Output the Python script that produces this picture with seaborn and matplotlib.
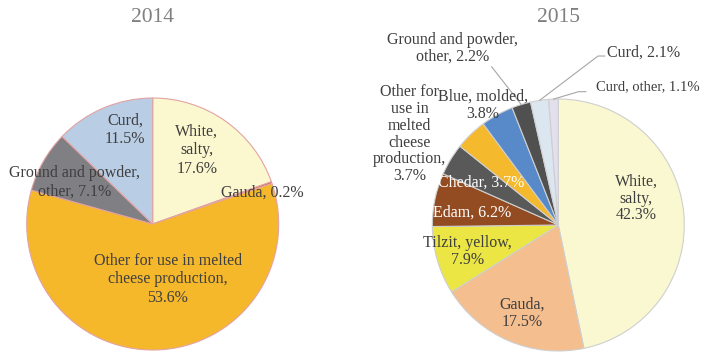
import matplotlib
matplotlib.use("Agg")
import matplotlib.pyplot as plt
import seaborn as sns
import numpy as np

# Cheese production structure by type, percent
cats_2014 = ["White, salty", "Gauda", "Other for use in melted cheese production",
             "Ground and powder, other", "Curd"]
vals_2014 = [17.6, 0.2, 53.6, 7.1, 11.5]

cats_2015 = ["White, salty", "Gauda", "Tilzit, yellow", "Edam", "Chedar",
             "Other for use in melted cheese production", "Blue, molded",
             "Ground and powder, other", "Curd", "Curd, other"]
vals_2015 = [42.3, 17.5, 7.9, 6.2, 3.7, 3.7, 3.8, 2.2, 2.1, 1.1]

years = ["2014", "2015"]

colors_2014 = ["#FBF8D0", "#C0504D", "#F5B82B", "#7F7F84", "#B9CDE5"]
colors_2015 = ["#FAF8D0", "#F5BE8F", "#EBE643", "#934C22", "#595959",
               "#F5B92E", "#588AC9", "#505050", "#DCE6F1", "#E4DFEC"]

# line breaks used when the category names are written on the chart
wrap_2014 = ["White,\nsalty,\n{v}%", "Gauda, {v}%",
             "Other for use in melted\ncheese production,\n{v}%",
             "Ground and powder,\nother, {v}%", "Curd,\n{v}%"]
wrap_2015 = ["White,\nsalty,\n{v}%", "Gauda,\n{v}%", "Tilzit, yellow,\n{v}%",
             "Edam, {v}%", "Chedar, {v}%",
             "Other for\nuse in\nmelted\ncheese\nproduction,\n{v}%",
             "Blue, molded,\n{v}%", "Ground and powder,\nother, {v}%", "Curd, {v}%",
             "Curd, other, {v}%"]

sns.set_theme(style="white")
plt.rcParams["font.family"] = ["Liberation Serif", "DejaVu Serif"]

W, H = 703, 352
fig = plt.figure(figsize=(W / 100, H / 100), dpi=100)
fig.patch.set_facecolor("white")

R = 126


def pie_axes(cx, cy):
    return fig.add_axes([(cx - R) / W, (H - cy - R) / H, 2 * R / W, 2 * R / H])


def finish(ax):
    ax.set_xlim(-1, 1)
    ax.set_ylim(-1, 1)
    ax.set_aspect("equal")
    ax.axis("off")


TXT = "#3F3F3F"
FS = 11.5

# ---- 2014 ----
ax1 = pie_axes(152.7, 224)
ax1.pie(vals_2014, colors=colors_2014, startangle=90, counterclock=False,
        radius=1, wedgeprops=dict(edgecolor="#E3A3A3", linewidth=0.8))
finish(ax1)
pos_2014 = [(0.35, 0.585), (0.87, 0.245), (0.12, -0.44), (-0.62, 0.33), (-0.22, 0.75)]
for fmt, v, (x, y) in zip(wrap_2014, vals_2014, pos_2014):
    ax1.text(x, y, fmt.format(v=v), ha="center", va="center", fontsize=FS,
             color=TXT, linespacing=1.2, multialignment="center")
fig.text(152.7 / W, 1 - 17 / H, years[0], ha="center", va="center",
         fontsize=15.5, color="#7F7F7F")

# ---- 2015 ----
ax2 = pie_axes(558.3, 225)
wedges, _ = ax2.pie(vals_2015, colors=colors_2015, startangle=90, counterclock=False,
                    radius=1, wedgeprops=dict(edgecolor="#CFCFCF", linewidth=0.8))
finish(ax2)

pos_2015 = [(0.62, 0.21, "center"), (-0.29, -0.70, "center"), (-0.72, -0.21, "center"),
            (-0.68, 0.10, "center"), (-0.61, 0.34, "center"), (-1.18, 0.72, "center"),
            (-0.60, 0.95, "center"), (-0.84, 1.40, "center"), (0.385, 1.365, "left"),
            (0.30, 1.10, "left")]
sizes_2015 = [FS] * 9 + [10.5]
text_colors = [TXT, TXT, TXT, "white", "white", TXT, TXT, TXT, TXT, TXT]
for fmt, v, (x, y, ha), tc, fs in zip(wrap_2015, vals_2015, pos_2015, text_colors, sizes_2015):
    ax2.text(x, y, fmt.format(v=v), ha=ha, va="center", fontsize=fs, color=tc,
             linespacing=1.06, multialignment="center")

# leader lines from the small outer wedges to their labels
leaders = {7: [(-0.53, 1.257)], 8: [(0.37, 1.341), (0.315, 1.341)],
           9: [(0.22, 1.058), (0.16, 1.058)]}
for i, pts in leaders.items():
    w = wedges[i]
    mid = np.deg2rad((w.theta1 + w.theta2) / 2)
    xs = [p[0] for p in pts] + [np.cos(mid)]
    ys = [p[1] for p in pts] + [np.sin(mid)]
    ax2.plot(xs, ys, color="#A6A6A6", lw=0.8, clip_on=False)

fig.text(558.3 / W, 1 - 17 / H, years[1], ha="center", va="center",
         fontsize=15.5, color="#7F7F7F")

fig.savefig("out.png", dpi=100, facecolor="white")
